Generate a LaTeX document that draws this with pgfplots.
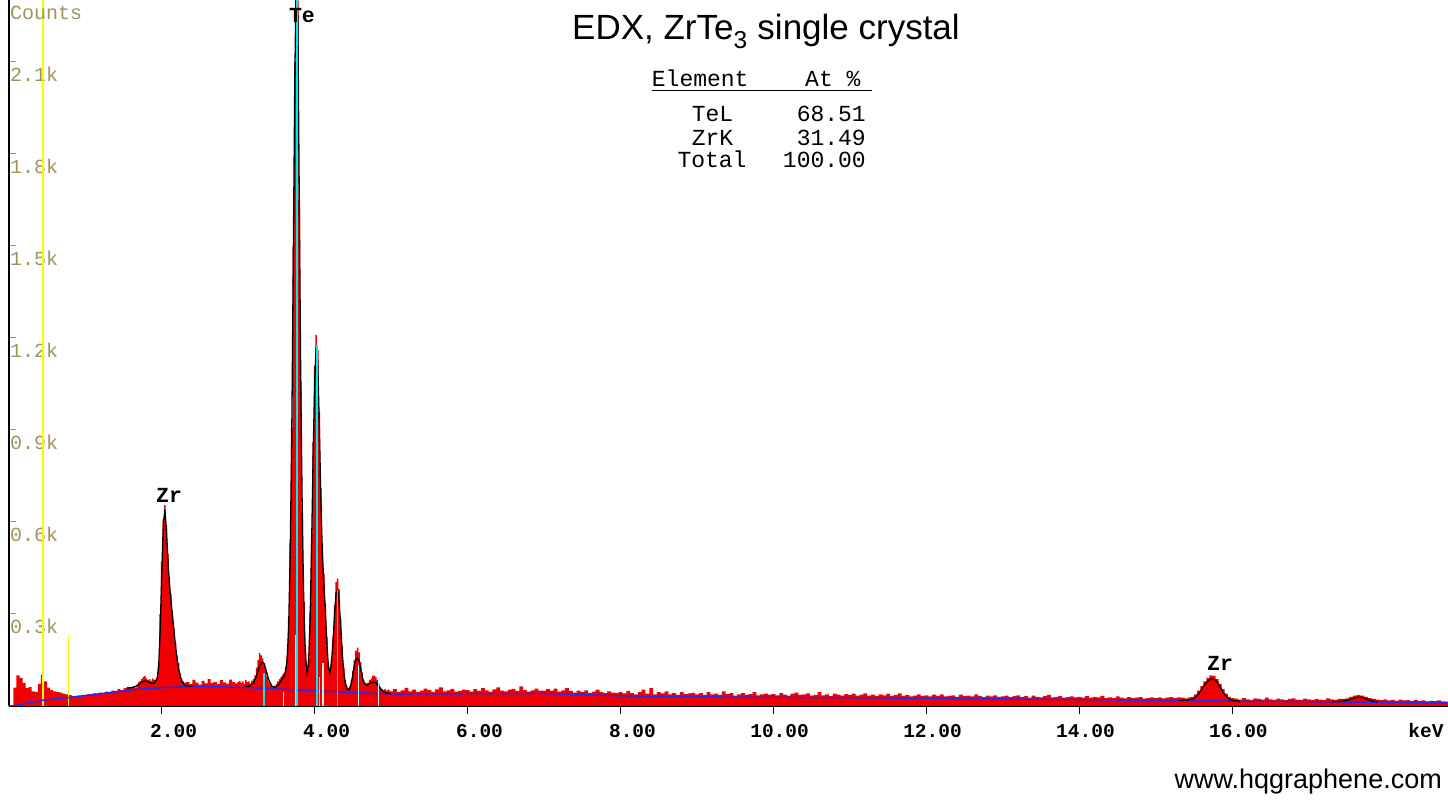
\documentclass[border=0pt]{standalone}
\usepackage{fontspec}
\setmainfont{Liberation Sans}
\newfontfamily\cour{Liberation Mono}
\usepackage{pgfplots}
\usepackage{pgfplotstable}
\pgfplotsset{compat=1.18}
\definecolor{olivetxt}{RGB}{160,148,90}
\definecolor{specred}{RGB}{240,0,0}
\definecolor{fitblue}{RGB}{40,40,235}
\definecolor{mkcyan}{RGB}{0,235,235}
\definecolor{mklight}{RGB}{175,245,245}
\definecolor{mkyellow}{RGB}{250,250,0}

\pgfplotstableread{
x y
0.00 0
0.04 0
0.08 60
0.12 100
0.16 92
0.20 75
0.24 58
0.28 62
0.32 48
0.36 45
0.40 72
0.44 102
0.48 80
0.52 60
0.56 52
0.60 48
0.64 45
0.68 44
0.72 40
0.76 38
0.80 36
0.84 33
0.88 30
0.92 34
0.96 31
1.00 35
1.04 38
1.08 36
1.12 41
1.16 39
1.20 44
1.24 42
1.28 47
1.32 45
1.36 50
1.40 48
1.44 55
1.48 52
1.52 58
1.56 62
1.60 60
1.62 58
1.64 62
1.66 60
1.68 70
1.70 78
1.72 82
1.74 88
1.76 95
1.78 98
1.80 90
1.82 84
1.84 88
1.86 82
1.88 90
1.90 86
1.92 85
1.94 92
1.96 140
1.98 300
2.00 470
2.02 610
2.04 655
2.06 590
2.08 495
2.10 420
2.12 365
2.14 310
2.16 255
2.18 205
2.20 165
2.22 140
2.24 108
2.26 90
2.28 80
2.30 76
2.34 78
2.38 72
2.42 85
2.46 76
2.50 70
2.54 82
2.58 74
2.62 88
2.66 75
2.70 79
2.74 71
2.78 84
2.82 77
2.86 73
2.90 86
2.94 78
2.98 74
3.00 78
3.02 82
3.04 75
3.06 80
3.08 72
3.10 85
3.12 78
3.14 80
3.16 74
3.18 82
3.20 88
3.22 100
3.24 125
3.26 150
3.28 172
3.30 165
3.32 155
3.34 140
3.36 115
3.38 95
3.40 78
3.42 70
3.44 65
3.46 62
3.48 66
3.50 72
3.52 80
3.54 88
3.56 95
3.58 102
3.60 108
3.62 125
3.64 165
3.66 285
3.68 530
3.70 910
3.72 1500
3.74 2100
3.76 2450
3.78 2300
3.80 1650
3.82 1060
3.84 630
3.86 340
3.88 175
3.90 118
3.92 155
3.94 305
3.96 565
3.98 860
4.00 1110
4.02 1210
4.04 1160
4.06 960
4.08 710
4.10 530
4.12 430
4.14 335
4.16 225
4.18 140
4.20 115
4.22 155
4.24 225
4.26 330
4.28 405
4.30 415
4.32 380
4.34 285
4.36 195
4.38 125
4.40 85
4.42 66
4.44 58
4.46 64
4.48 85
4.50 115
4.52 150
4.54 180
4.56 190
4.58 175
4.60 145
4.62 110
4.64 85
4.66 76
4.68 74
4.70 76
4.72 84
4.74 90
4.76 98
4.78 100
4.80 94
4.82 84
4.84 72
4.86 62
4.88 56
4.90 52
4.92 55
4.94 50
4.96 53
5.00 48
5.05 55
5.10 46
5.15 51
5.20 59
5.25 48
5.30 53
5.35 45
5.40 50
5.45 57
5.50 52
5.55 46
5.60 54
5.65 61
5.70 48
5.75 51
5.80 56
5.85 47
5.90 49
5.95 53
6.00 52
6.05 47
6.10 55
6.15 49
6.20 58
6.25 51
6.30 46
6.35 54
6.40 61
6.45 50
6.50 48
6.55 53
6.60 56
6.65 49
6.70 64
6.75 52
6.80 47
6.85 51
6.90 57
6.95 50
7.00 50
7.05 55
7.10 50
7.15 57
7.20 47
7.25 51
7.30 58
7.35 49
7.40 44
7.45 50
7.50 46
7.55 51
7.60 42
7.65 47
7.70 53
7.75 45
7.80 42
7.85 48
7.90 44
7.95 42
8.00 45
8.05 41
8.10 49
8.15 42
8.20 38
8.25 45
8.30 53
8.35 40
8.40 58
8.45 38
8.50 45
8.55 41
8.60 48
8.65 38
8.70 42
8.75 36
8.80 45
8.85 39
8.90 41
8.95 43
9.00 38
9.05 42
9.10 36
9.15 45
9.20 38
9.25 40
9.30 36
9.35 48
9.40 39
9.45 42
9.50 34
9.55 38
9.60 42
9.65 36
9.70 39
9.75 45
9.80 35
9.85 38
9.90 40
9.95 37
10.00 39
10.05 35
10.10 42
10.15 37
10.20 34
10.25 40
10.30 44
10.35 36
10.40 38
10.45 41
10.50 34
10.55 36
10.60 45
10.65 35
10.70 38
10.75 33
10.80 40
10.85 37
10.90 34
10.95 39
11.00 36
11.05 40
11.10 34
11.15 37
11.20 41
11.25 34
11.30 37
11.35 32
11.40 38
11.45 35
11.50 40
11.55 33
11.60 36
11.65 41
11.70 33
11.75 36
11.80 31
11.85 34
11.90 38
11.95 33
12.00 35
12.05 31
12.10 37
12.15 33
12.20 38
12.25 31
12.30 33
12.35 35
12.40 30
12.45 37
12.50 32
12.55 34
12.60 31
12.65 38
12.70 32
12.75 29
12.80 34
12.85 31
12.90 35
12.95 30
13.00 31
13.05 34
13.10 29
13.15 32
13.20 35
13.25 29
13.30 32
13.35 27
13.40 34
13.45 30
13.50 28
13.55 32
13.60 36
13.65 28
13.70 30
13.75 32
13.80 27
13.85 29
13.90 31
13.95 28
14.00 30
14.05 27
14.10 32
14.15 27
14.20 30
14.25 28
14.30 33
14.35 26
14.40 28
14.45 26
14.50 31
14.55 27
14.60 25
14.65 29
14.70 26
14.75 27
14.80 29
14.85 24
14.90 26
14.95 28
15.00 26
15.05 28
15.10 25
15.15 27
15.20 29
15.25 26
15.30 28
15.35 27
15.40 25
15.44 28
15.48 30
15.52 38
15.56 50
15.60 65
15.64 80
15.68 92
15.72 100
15.76 98
15.80 88
15.84 72
15.88 55
15.92 40
15.96 30
16.00 26
16.05 24
16.10 21
16.15 26
16.20 22
16.25 20
16.30 25
16.35 23
16.40 21
16.45 27
16.50 22
16.55 20
16.60 24
16.65 22
16.70 19
16.75 23
16.80 25
16.85 21
16.90 20
16.95 24
17.00 22
17.05 19
17.10 23
17.15 21
17.20 20
17.25 25
17.30 22
17.35 20
17.40 23
17.45 23
17.50 25
17.55 30
17.60 34
17.65 36
17.70 34
17.75 30
17.80 26
17.85 23
17.90 21
17.95 19
18.00 22
18.05 18
18.10 20
18.15 17
18.20 21
18.25 18
18.30 19
18.35 16
18.40 20
18.45 17
18.50 18
18.55 15
18.60 17
18.65 16
18.70 18
18.75 15
18.82 14
}\redtab

\begin{document}
\begin{tikzpicture}[x=1pt,y=1pt]
\useasboundingbox (0,0) rectangle (1448,806);
\begin{axis}[
  at={(8.8pt,100pt)}, anchor=south west,
  scale only axis, width=1439.2pt, height=706pt,
  xmin=0, xmax=18.82, ymin=0, ymax=2302,
  axis x line=bottom, axis y line=left,
  axis line style={-, line width=1.5pt, black},
  xtick={2,4,6,8,10,12,14,16},
  xticklabels={{\llap{2}.00},{\llap{4}.00},{\llap{6}.00},{\llap{8}.00},{\llap{10}.00},{\llap{12}.00},{\llap{14}.00},{\llap{16}.00}},
  ytick={300,600,900,1200,1500,1800,2100},
  yticklabels={0.3k,0.6k,0.9k,1.2k,1.5k,1.8k,2.1k},
  tick align=outside, major tick length=8pt,
  x tick style={black, line width=1pt},
  y tick style={olivetxt, line width=1pt, xshift=7pt},
  xticklabel style={anchor=north west, inner sep=0pt, yshift=-10pt, font=\cour\bfseries\fontsize{19.5}{20}\selectfont},
  yticklabel style={anchor=north west, inner sep=0pt, xshift=9pt, yshift=-4.5pt, text=olivetxt, font=\cour\fontsize{20}{22}\selectfont},
  clip=true,
]
\addplot[draw=none, fill=specred, const plot mark mid] table {\redtab} \closedcycle;
% markers
\addplot[mkyellow, line width=1.1pt] coordinates {(0.447,0) (0.447,2400)};
\addplot[mkyellow, line width=1.1pt] coordinates {(0.775,0) (0.775,232)};
% background
\addplot[fitblue, line width=1.5pt] coordinates {(0,0) (0.08,0) (0.2,8) (0.45,19) (0.76,27) (1.19,40) (1.63,53) (2.0,60) (2.5,64) (3.16,60) (3.8,52) (4.5,44) (5.1,39) (6,40) (7,41) (8,33) (9,30) (10,28) (11,27) (12,25) (13,23) (14,21) (15,18) (16,16) (17,14) (18,12) (18.82,10)};
% fits
\addplot[black, line width=1.3pt] coordinates {(1.55,58) (1.60,60) (1.65,63) (1.70,70) (1.74,78) (1.78,82) (1.82,78) (1.86,74) (1.90,74) (1.94,90) (1.96,130) (1.98,250) (2.00,430) (2.02,590) (2.04,640) (2.06,580) (2.08,480) (2.10,400) (2.12,345) (2.14,295) (2.16,245) (2.18,195) (2.20,155) (2.22,122) (2.24,98) (2.26,83) (2.28,74) (2.30,68) (2.35,65) (2.40,64)};
\addplot[black, line width=1.3pt] coordinates {(3.10,63) (3.16,66) (3.20,75) (3.24,100) (3.28,130) (3.30,140) (3.32,143) (3.34,138) (3.36,120) (3.40,85) (3.44,65) (3.48,60) (3.52,68) (3.56,82) (3.58,90) (3.60,98) (3.62,115) (3.64,150) (3.66,260) (3.68,500) (3.70,880) (3.72,1450) (3.74,2050) (3.76,2400) (3.78,2250) (3.80,1600) (3.82,1000) (3.84,580) (3.86,300) (3.88,160) (3.90,110) (3.92,140) (3.94,280) (3.96,530) (3.98,820) (4.00,1060) (4.02,1175) (4.04,1120) (4.06,920) (4.08,680) (4.10,500) (4.12,400) (4.14,310) (4.16,200) (4.18,125) (4.20,110) (4.22,145) (4.24,210) (4.26,300) (4.28,370) (4.30,378) (4.32,340) (4.34,260) (4.36,175) (4.38,110) (4.40,75) (4.42,58) (4.44,52) (4.46,56) (4.48,75) (4.50,105) (4.52,135) (4.54,152) (4.56,156) (4.58,148) (4.60,125) (4.62,98) (4.64,78) (4.66,70) (4.68,68) (4.70,70) (4.72,73) (4.76,78) (4.80,76) (4.84,64) (4.88,50) (4.92,44) (4.96,41) (5.00,40)};
\addplot[black, line width=1.3pt] coordinates {(15.30,18) (15.40,19) (15.48,22) (15.52,30) (15.56,40) (15.60,55) (15.64,70) (15.68,82) (15.72,88) (15.76,87) (15.80,78) (15.84,62) (15.88,45) (15.92,31) (15.96,22) (16.00,18) (16.10,16)};
\addplot[black, line width=1.3pt] coordinates {(17.30,14) (17.40,15) (17.50,18) (17.60,26) (17.65,29) (17.70,27) (17.80,18) (17.90,13)};
% element lines
\addplot[mklight, line width=1.3pt, ycomb, no marks] coordinates {(3.59,46) (3.756,232) (4.06,95) (4.11,140) (4.57,134) (4.83,85)};
\addplot[mkcyan, line width=1.6pt, ycomb, no marks] coordinates {(3.34,108) (3.769,2400) (4.029,1177) (4.296,378)};
% labels
\node[font=\cour\bfseries\fontsize{21.5}{22}\selectfont] at (axis cs:3.834,2250) {Te};
\node[font=\cour\bfseries\fontsize{21.5}{22}\selectfont] at (axis cs:2.095,688) {Zr};
\node[font=\cour\bfseries\fontsize{21.5}{22}\selectfont] at (axis cs:15.84,140) {Zr};
\end{axis}
% outside texts
\node[anchor=base west, inner sep=0pt, text=olivetxt, font=\cour\fontsize{20}{22}\selectfont] at (10,786) {Counts};
\node[font=\cour\bfseries\fontsize{19.5}{20}\selectfont, inner sep=0pt] at (1426,75) {keV};
\node[anchor=base, inner sep=0pt, font=\fontsize{35}{38}\selectfont] at (766,766) {EDX, ZrTe\textsubscript{3} single crystal};
\node[anchor=base west, inner sep=0pt, font=\cour\fontsize{23}{24}\selectfont] at (651.7,719) {Element};
\node[anchor=base west, inner sep=0pt, font=\cour\fontsize{23}{24}\selectfont] at (805,719) {At \%};
\draw[line width=1pt] (651.7,715.3) -- (871.7,715.3);
\node[anchor=base, inner sep=0pt, font=\cour\fontsize{23}{24}\selectfont] at (712.5,684) {TeL};
\node[anchor=base east, inner sep=0pt, font=\cour\fontsize{23}{24}\selectfont] at (866,684) {68.51};
\node[anchor=base, inner sep=0pt, font=\cour\fontsize{23}{24}\selectfont] at (712.5,660.3) {ZrK};
\node[anchor=base east, inner sep=0pt, font=\cour\fontsize{23}{24}\selectfont] at (866,660.3) {31.49};
\node[anchor=base, inner sep=0pt, font=\cour\fontsize{23}{24}\selectfont] at (712,638) {Total};
\node[anchor=base east, inner sep=0pt, font=\cour\fontsize{23}{24}\selectfont] at (866,638) {100.00};
\node[anchor=base east, inner sep=0pt, font=\fontsize{27}{30}\selectfont] at (1442,18) {www.hqgraphene.com};
\end{tikzpicture}
\end{document}
